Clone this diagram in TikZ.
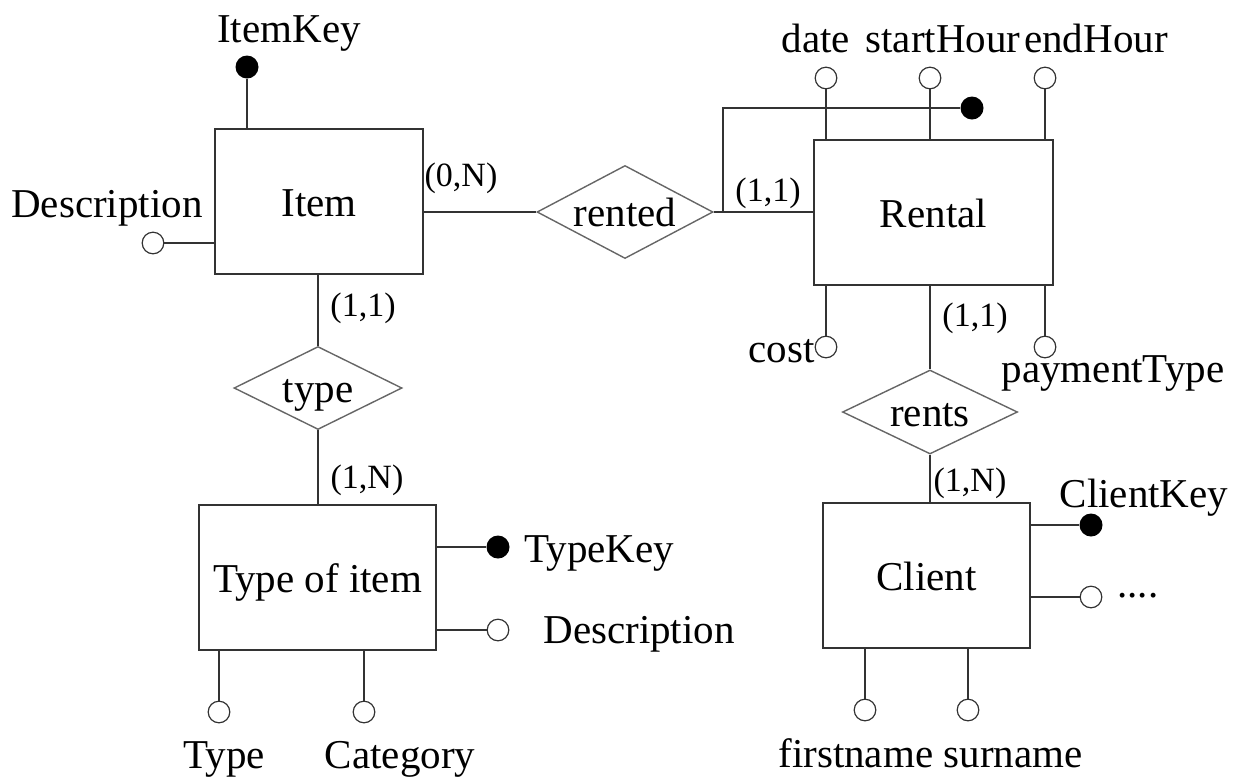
\documentclass[tikz,border=0pt]{standalone}
\usepackage{fontspec}
\setmainfont{Liberation Serif}
\usetikzlibrary{shapes.geometric}
\newcommand{\mainfs}{\fontsize{20.5}{24}\selectfont}
\newcommand{\cardfs}{\fontsize{17}{20}\selectfont}
\begin{document}
\begin{tikzpicture}[x=0.5pt,y=-0.5pt,
  ln/.style={line width=0.9pt, draw=black!80},
  entity/.style={draw=black!80, line width=0.9pt, rectangle, minimum height=72.5pt, inner sep=0pt, text height=15pt, text depth=0pt, font=\mainfs},
  rel/.style={draw=black!60, line width=0.7pt, diamond, aspect=1.9, inner sep=0pt, text height=14pt, text depth=0pt, font=\mainfs},
  attr/.style={circle, draw=black!80, line width=0.6pt, fill=white, minimum size=10.8pt, inner sep=0pt},
  keyattr/.style={circle, fill=black, minimum size=11.5pt, inner sep=0pt},
  txt/.style={font=\mainfs, inner sep=0pt},
  card/.style={font=\cardfs, inner sep=0pt}]
\useasboundingbox (0,0) rectangle (1242,783);
% entities and relationships
\node[entity, minimum width=104pt] (item) at (319,201.5) {Item};
\node[entity, minimum width=119.5pt] (rental) at (933.5,212.5) {Rental};
\node[entity, minimum width=118.5pt] (toi) at (317.5,577.5) {Type of item};
\node[entity, minimum width=103.5pt] (client) at (926.5,575.5) {Client};
\node[rel, minimum width=88pt, minimum height=46.5pt] (rented) at (625,212) {rented};
\node[rel, minimum width=84pt, minimum height=41.5pt] (type) at (318,388) {type};
\node[rel, minimum width=87.5pt, minimum height=42pt] (rents) at (930,412) {rents};
% attributes
\node[keyattr] (itemkey) at (247,67) {};
\node[attr] (itemdesc) at (153,243) {};
\node[keyattr] (rentalkey) at (972,108) {};
\node[attr] (date) at (826,78) {};
\node[attr] (start) at (930,78) {};
\node[attr] (end) at (1045,78) {};
\node[attr] (cost) at (826,347) {};
\node[attr] (pay) at (1045,347) {};
\node[keyattr] (typekey) at (498,547) {};
\node[attr] (typedesc) at (498,630) {};
\node[attr] (typeattr) at (219,712) {};
\node[attr] (cat) at (364,712) {};
\node[keyattr] (clientkey) at (1091,525) {};
\node[attr] (more) at (1091,597) {};
\node[attr] (first) at (865,710) {};
\node[attr] (sur) at (968,710) {};
% connectors
\draw[ln] (itemkey.south) -- (itemkey.south |- item.north);
\draw[ln] (itemdesc.east) -- (itemdesc.east -| item.west);
\draw[ln] (rented.west -| item.east) -- (rented.west);
\draw[ln] (rented.east) -- (rented.east -| rental.west);
\coordinate (brk) at (723,212);
\draw[ln] (brk) |- (rentalkey.west);
\draw[ln] (date.south) -- (date.south |- rental.north);
\draw[ln] (start.south) -- (start.south |- rental.north);
\draw[ln] (end.south) -- (end.south |- rental.north);
\draw[ln] (cost.north) -- (cost.north |- rental.south);
\draw[ln] (pay.north) -- (pay.north |- rental.south);
\draw[ln] (rents.north) -- (rents.north |- rental.south);
\draw[ln] (rents.south) -- (rents.south |- client.north);
\draw[ln] (type.north) -- (type.north |- item.south);
\draw[ln] (type.south) -- (type.south |- toi.north);
\draw[ln] (typekey.west) -- (typekey.west -| toi.east);
\draw[ln] (typedesc.west) -- (typedesc.west -| toi.east);
\draw[ln] (typeattr.north) -- (typeattr.north |- toi.south);
\draw[ln] (cat.north) -- (cat.north |- toi.south);
\draw[ln] (clientkey.west) -- (clientkey.west -| client.east);
\draw[ln] (more.west) -- (more.west -| client.east);
\draw[ln] (first.north) -- (first.north |- client.south);
\draw[ln] (sur.north) -- (sur.north |- client.south);
% labels
\node[txt, anchor=base] (lItemKey) at (289,42) {ItemKey};
\node[txt, anchor=base] (lItemDesc) at (107,217) {Description};
\node[card, anchor=base] (c1) at (461,186) {(0,N)};
\node[card, anchor=base] (c2) at (768,201) {(1,1)};
\node[txt, anchor=base] (lDate) at (816,52) {date};
\node[txt, anchor=base] (lStart) at (943,52) {startHour};
\node[txt, anchor=base] (lEnd) at (1096,52) {endHour};
\node[txt, anchor=base east] (lCost) at (815,362) {cost};
\node[card, anchor=base] (c3) at (975,326) {(1,1)};
\node[txt, anchor=base] (lPay) at (1113,382) {paymentType};
\node[card, anchor=base] (c4) at (363,316) {(1,1)};
\node[card, anchor=base] (c5) at (367,488) {(1,N)};
\node[txt, anchor=base west] (lTypeKey) at (524,562) {TypeKey};
\node[txt, anchor=base west] (lTypeDesc) at (543,643) {Description};
\node[txt, anchor=base] (lType) at (224,768) {Type};
\node[txt, anchor=base] (lCat) at (400,768) {Category};
\node[card, anchor=base] (c6) at (970,491) {(1,N)};
\node[txt, anchor=base] (lClientKey) at (1144,507) {ClientKey};
\node[txt, anchor=base west] (lMore) at (1117,597) {....};
\node[txt, anchor=base west] (lFirst) at (778,767) {firstname};
\node[txt, anchor=base east] (lSur) at (1083,767) {surname};
\end{tikzpicture}
\end{document}
